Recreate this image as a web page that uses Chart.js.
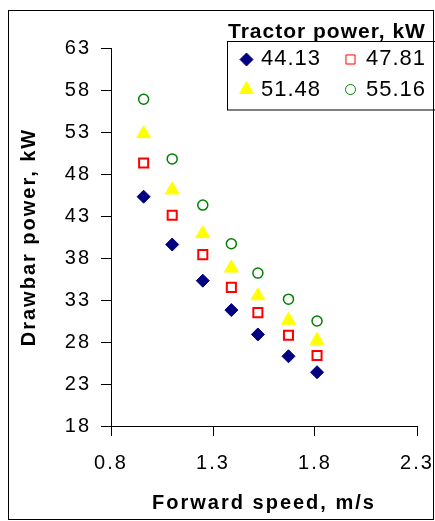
<!DOCTYPE html>
<html>
<head>
<meta charset="utf-8">
<script src="https://cdn.jsdelivr.net/npm/chart.js@4"></script>
<style>
  html, body { margin: 0; padding: 0; background: #fff; }
  canvas { display: block; }
</style>
</head>
<body>
<canvas id="chart" width="435" height="521"></canvas>
<script>
// ─── DATA ────────────────────────────────────────────────
const speeds = [0.96, 1.10, 1.25, 1.39, 1.52, 1.67, 1.81];
const power4413 = [45.3, 39.6, 35.3, 31.8, 28.9, 26.3, 24.4];
const power4781 = [49.3, 43.1, 38.4, 34.5, 31.5, 28.8, 26.4];
const power5148 = [52.8, 46.1, 40.9, 36.8, 33.5, 30.6, 28.2];
const power5516 = [56.9, 49.8, 44.3, 39.7, 36.2, 33.1, 30.5];
const seriesLabels = ['44.13', '47.81', '51.48', '55.16'];
const legendTitle = 'Tractor power, kW';
const xTitle = 'Forward speed, m/s';
const yTitle = 'Drawbar power, kW';

const pts = vals => vals.map((v, i) => ({ x: speeds[i], y: v }));

const FONT = 'Arial, "Liberation Sans", sans-serif';

// stretched look of the original text
const spacing = {
  id: 'spacing',
  beforeLayout(chart) { chart.ctx.letterSpacing = '2px'; },
  beforeDraw(chart) { chart.ctx.letterSpacing = '2px'; },
};

// outer frame + boxed legend with title
const frame = {
  id: 'frame',
  afterDraw(chart) {
    const ctx = chart.ctx;
    ctx.save();
    ctx.strokeStyle = '#000';
    ctx.lineWidth = 1;
    ctx.strokeRect(8.5, 10.5, 425, 509);

    ctx.letterSpacing = '1px';
    ctx.fillStyle = '#000';
    ctx.font = 'bold 21px ' + FONT;
    ctx.textAlign = 'left';
    ctx.textBaseline = 'alphabetic';
    ctx.fillText(legendTitle, 228, 38);

    ctx.strokeRect(227.5, 41.5, 210, 68.5);

    const cells = [[246.5, 59.5, 261, 65], [350.5, 59.5, 366, 65], [246.5, 89.5, 261, 96], [350.5, 89.5, 366, 96]];
    chart.data.datasets.forEach((ds, i) => {
      const [mx, my, tx, ty] = cells[i];
      ctx.fillStyle = ds.pointBackgroundColor;
      ctx.strokeStyle = ds.pointBorderColor;
      Chart.helpers.drawPoint(ctx, {
        pointStyle: ds.pointStyle, radius: ds.pointRadius,
        borderWidth: ds.pointBorderWidth, rotation: 0,
      }, mx, my);
      ctx.fillStyle = '#000';
      ctx.font = '22px ' + FONT;
      ctx.fillText(ds.label, tx, ty);
    });
    ctx.restore();
  },
};

new Chart(document.getElementById('chart'), {
  type: 'scatter',
  data: {
    datasets: [
      {
        label: seriesLabels[0], data: pts(power4413),
        pointStyle: 'rectRot', pointRadius: 6.5, pointBorderWidth: 1,
        pointBackgroundColor: '#000080', pointBorderColor: '#000080',
      },
      {
        label: seriesLabels[1], data: pts(power4781),
        pointStyle: 'rect', pointRadius: 6.4, pointBorderWidth: 2,
        pointBackgroundColor: 'rgba(255,255,255,0)', pointBorderColor: '#ff0000',
      },
      {
        label: seriesLabels[2], data: pts(power5148),
        pointStyle: 'triangle', pointRadius: 8, pointBorderWidth: 1,
        pointBackgroundColor: '#ffff00', pointBorderColor: '#ffff00',
      },
      {
        label: seriesLabels[3], data: pts(power5516),
        pointStyle: 'circle', pointRadius: 5, pointBorderWidth: 1.5,
        pointBackgroundColor: 'rgba(255,255,255,0)', pointBorderColor: '#008000',
      },
    ]
  },
  options: {
    responsive: false,
    animation: false,
    devicePixelRatio: 1,
    layout: { padding: { left: 0, top: 48, right: 18, bottom: 0 } },
    plugins: { legend: { display: false }, tooltip: { enabled: false } },
    scales: {
      x: {
        type: 'linear', min: 0.8, max: 2.3,
        afterFit: s => { s.height = 95; s.paddingLeft = 0; s.paddingRight = 0; },
        ticks: {
          stepSize: 0.5, color: '#000', padding: 15,
          font: { family: FONT, size: 20 },
          callback: v => v.toFixed(1),
        },
        grid: { drawOnChartArea: false, drawTicks: true, tickLength: 10, color: '#000' },
        border: { color: '#000', width: 1 },
        title: {
          display: true, text: xTitle, color: '#000',
          font: { family: FONT, size: 20, weight: 'bold' },
          padding: { top: 0, bottom: 5.5 },
        },
      },
      y: {
        type: 'linear', min: 18, max: 63,
        afterFit: s => { s.width = 111; s.paddingTop = 0; s.paddingBottom = 0; },
        ticks: {
          stepSize: 5, color: '#000', padding: 10,
          font: { family: FONT, size: 20 },
        },
        grid: { drawOnChartArea: false, drawTicks: true, tickLength: 10, color: '#000' },
        border: { color: '#000', width: 1 },
        title: {
          display: true, text: yTitle, color: '#000',
          font: { family: FONT, size: 20, weight: 'bold' },
          padding: { top: 17, bottom: 0 },
        },
      },
    },
  },
  plugins: [spacing, frame],
});
</script>
</body>
</html>
